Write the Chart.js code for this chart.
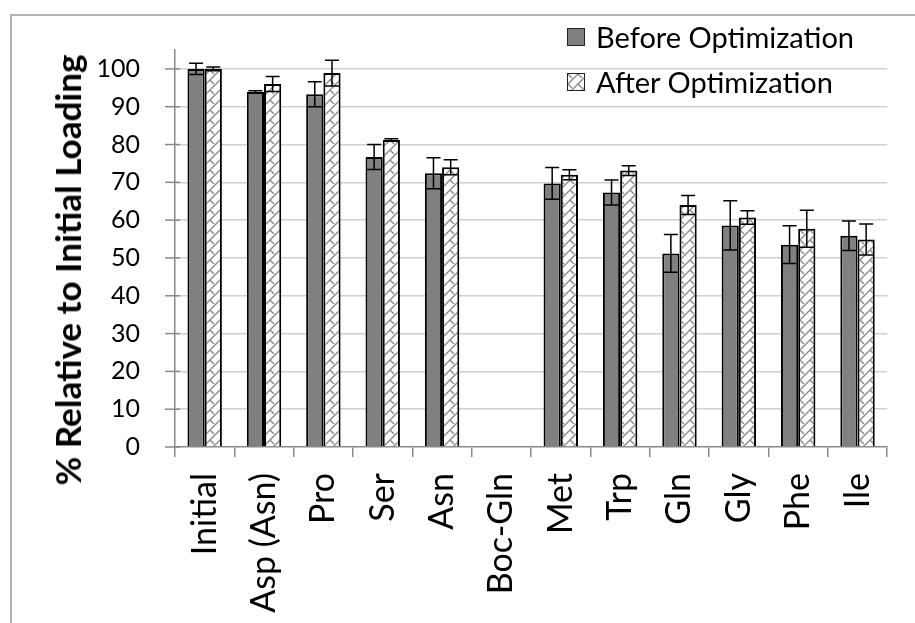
<!DOCTYPE html>
<html>
<head>
<meta charset="utf-8">
<script src="https://cdn.jsdelivr.net/npm/chart.js@4.4.1/dist/chart.umd.min.js"></script>
<style>
    body { margin: 0; background: #fff; }
    #wrap { position: relative; width: 915px; height: 623px; overflow: hidden; font-family: Lato, sans-serif; }
    #frame { position: absolute; left: 10px; top: 14px; width: 1000px; height: 1000px; border-left: 2px solid #b3b3b3; border-top: 2px solid #b3b3b3; }
    #chart { position: absolute; left: 0; top: 0; }
    #ytitle { position: absolute; left: 67px; top: 270px; transform: translate(-50%, -50%) rotate(-90deg); white-space: nowrap; font-weight: bold; font-size: 35px; line-height: 42px; color: #000; }
    .leg { position: absolute; left: 567px; display: flex; align-items: center; font-size: 29px; color: #000; white-space: nowrap; }
    .leg .box { width: 16px; height: 16px; border: 1.5px solid #222; margin-right: 11px; flex: none; }
</style>
</head>
<body>
<div id="wrap">
    <div id="frame"></div>
    <canvas id="chart" width="915" height="623"></canvas>
    <div id="ytitle">% Relative to Initial Loading</div>
    <div class="leg" style="top:19px"><div class="box" id="legBefore"></div>Before Optimization</div>
    <div class="leg" style="top:64px"><div class="box" id="legAfter"></div>After Optimization</div>
</div>
<script>
// Dados
const categories = ['Initial', 'Asp (Asn)', 'Pro', 'Ser', 'Asn', 'Boc-Gln', 'Met', 'Trp', 'Gln', 'Gly', 'Phe', 'Ile'];
const beforeValues = [100, 93.9, 93.3, 76.7, 72.4, 0, 69.7, 67.3, 51.2, 58.6, 53.5, 55.9];
const beforeErrors = [1.5, 0.3, 3.3, 3.3, 4.1, 0, 4.2, 3.3, 5.0, 6.5, 5.0, 3.9];
const afterValues = [100, 96.0, 98.9, 81.2, 74.0, 0, 72.0, 73.1, 64.0, 60.7, 57.7, 54.9];
const afterErrors = [0.5, 2.0, 3.4, 0.3, 2.0, 0, 1.3, 1.3, 2.5, 1.8, 4.9, 4.1];
const yMin = 0;
const yMax = 105;
const yStep = 5;

const beforeColor = '#808080';

// Padrão hachurado da série "After"
function makeHatch() {
    const c = document.createElement('canvas');
    c.width = 10; c.height = 10;
    const g = c.getContext('2d');
    g.fillStyle = '#fff';
    g.fillRect(0, 0, 10, 10);
    g.strokeStyle = '#8c8c8c';
    g.lineWidth = 1.4;
    g.beginPath();
    g.moveTo(0, 10); g.lineTo(10, 0);
    g.moveTo(-1, 1); g.lineTo(1, -1);
    g.moveTo(9, 11); g.lineTo(11, 9);
    g.moveTo(0, 0); g.lineTo(4, 4);
    g.stroke();
    return c;
}
const hatchCanvas = makeHatch();
const ctx = document.getElementById('chart').getContext('2d');
const hatch = ctx.createPattern(hatchCanvas, 'repeat');

document.getElementById('legBefore').style.background = beforeColor;
document.getElementById('legAfter').style.background = `url(${hatchCanvas.toDataURL()})`;

// Barras de erro
const errorBars = {
    id: 'errorBars',
    afterDatasetsDraw(chart) {
        const y = chart.scales.y;
        const c = chart.ctx;
        c.save();
        c.strokeStyle = '#000';
        c.lineWidth = 1.5;
        chart.data.datasets.forEach((ds, i) => {
            chart.getDatasetMeta(i).data.forEach((bar, j) => {
                const e = ds.errors[j];
                if (!e) return;
                const v = ds.data[j];
                const y1 = y.getPixelForValue(v + e);
                const y2 = y.getPixelForValue(v - e);
                c.beginPath();
                c.moveTo(bar.x, y1); c.lineTo(bar.x, y2);
                c.moveTo(bar.x - 7, y1); c.lineTo(bar.x + 7, y1);
                c.moveTo(bar.x - 7, y2); c.lineTo(bar.x + 7, y2);
                c.stroke();
            });
        });
        c.restore();
    }
};

// Marcas do eixo Y que cruzam a linha do eixo
const yTickMarks = {
    id: 'yTickMarks',
    afterDraw(chart) {
        const y = chart.scales.y;
        const c = chart.ctx;
        const x0 = chart.chartArea.left;
        c.save();
        c.strokeStyle = '#8a8a8a';
        c.lineWidth = 1.5;
        y.ticks.forEach(t => {
            const py = y.getPixelForValue(t.value);
            const major = t.value % 10 === 0;
            c.beginPath();
            c.moveTo(x0 - (major ? 10 : 7), py);
            c.lineTo(x0 + 5, py);
            c.stroke();
        });
        c.restore();
    }
};

new Chart(ctx, {
    type: 'bar',
    data: {
        labels: categories,
        datasets: [
            {
                label: 'Before Optimization',
                data: beforeValues,
                errors: beforeErrors,
                backgroundColor: beforeColor,
                borderColor: '#000',
                borderWidth: 2,
                categoryPercentage: 0.58,
                barPercentage: 1.0
            },
            {
                label: 'After Optimization',
                data: afterValues,
                errors: afterErrors,
                backgroundColor: hatch,
                borderColor: '#000',
                borderWidth: 2,
                categoryPercentage: 0.58,
                barPercentage: 1.0
            }
        ]
    },
    options: {
        responsive: false,
        animation: false,
        layout: { padding: { left: 0, top: 47, right: 16, bottom: 0 } },
        plugins: { legend: { display: false }, tooltip: { enabled: false } },
        scales: {
            x: {
                afterFit: s => { s.height = 176; },
                grid: { offset: true, drawOnChartArea: false, tickLength: 10, tickColor: '#8a8a8a', lineWidth: 1.5 },
                border: { color: '#8a8a8a', width: 1.5 },
                ticks: { color: '#000', font: { family: 'Lato', size: 34 }, minRotation: 90, maxRotation: 90, padding: 16, autoSkip: false }
            },
            y: {
                min: yMin,
                max: yMax,
                afterFit: s => { s.width = 175; },
                grid: {
                    drawTicks: false,
                    lineWidth: 1.5,
                    color: c => (c.tick && c.tick.value > 0 && c.tick.value % 10 === 0) ? '#d0d0d0' : 'rgba(0,0,0,0)'
                },
                border: { color: '#8a8a8a', width: 1.5 },
                ticks: {
                    stepSize: yStep,
                    color: '#000',
                    padding: 35,
                    font: { family: 'Lato', size: 25 },
                    callback: v => (v % 10 === 0 ? v : '')
                }
            }
        }
    },
    plugins: [errorBars, yTickMarks]
});
</script>
</body>
</html>
